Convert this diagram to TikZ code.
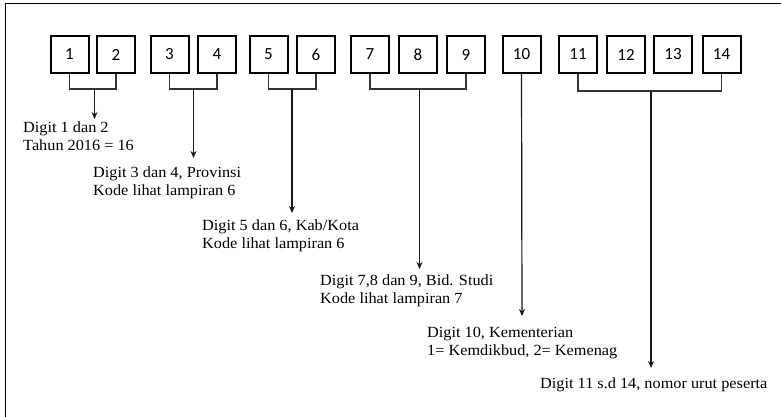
\documentclass[tikz,border=0pt]{standalone}
\usepackage{fontspec}
\setmainfont{Liberation Serif}[FakeStretch=1.05]
\newfontfamily\boxfont{Carlito}
\usetikzlibrary{arrows.meta}
\begin{document}
\begin{tikzpicture}[x=1pt,y=-1pt,
  digitbox/.style={draw, line width=2pt, minimum width=38pt, minimum height=37pt, inner sep=0pt, font=\boxfont\fontsize{17}{17}\selectfont},
  bracket/.style={draw=black!80, line width=1.1pt},
  stem/.style={draw=black!90, line width=1.2pt, -{Stealth[length=7pt,width=6pt]}},
  lbl/.style={anchor=base west, align=left, inner sep=0pt, font=\fontsize{15.5}{18}\selectfont}]
\useasboundingbox (0,0) rectangle (781,417);
\draw[line width=1.3pt] (5.5,417) -- (5.5,3.5) -- (781,3.5);
\foreach \n/\x in {1/69.5,2/116,3/169.5,4/217,5/268.5,6/316,7/370,8/418,9/466,10/521.5,11/578,12/626,13/673,14/721.5}
  \node[digitbox] (b\n) at (\x,54.5) {\n};
% brackets
\draw[bracket] (b1.south) -- (b1.south |- 0,89) -- (b2.south |- 0,89) -- (b2.south);
\draw[bracket] (b3.south) -- (b3.south |- 0,89) -- (b4.south |- 0,89) -- (b4.south);
\draw[bracket] (b5.south) -- (b5.south |- 0,89) -- (b6.south |- 0,89) -- (b6.south);
\draw[bracket] (b7.south) -- (b7.south |- 0,89) -- (b9.south |- 0,89) -- (b9.south);
\draw[bracket] (b11.south) -- (b11.south |- 0,91) -- (b14.south |- 0,91) -- (b14.south);
\coordinate (m12) at (94.5,89);
\coordinate (m34) at (193.5,89);
\coordinate (m56) at (292,89);
\coordinate (m79) at (419.5,89);
\coordinate (m1114) at (651,91);
% labels (base = baseline of last line)
\node[lbl] (l1) at (23,150) {Digit 1 dan 2\\Tahun 2016 = 16};
\node[lbl] (l2) at (93,195) {Digit 3 dan 4, Provinsi\\Kode lihat lampiran 6};
\node[lbl] (l3) at (202,248) {Digit 5 dan 6, Kab/Kota\\Kode lihat lampiran 6};
\node[lbl] (l4) at (320,303) {Digit 7,8 dan 9, Bid. Studi\\Kode lihat lampiran 7};
\node[lbl] (l5) at (427,355) {Digit 10, Kementerian\\1= Kemdikbud, 2= Kemenag};
\node[lbl] (l6) at (540,388) {Digit 11 s.d 14, nomor urut peserta};
% arrows
\coordinate (e1) at (94.5,119);
\coordinate (e2) at (193.5,158);
\coordinate (e3) at (292,213);
\coordinate (e4) at (419.5,269);
\coordinate (e5) at (522,316);
\coordinate (e6) at (651,368);
\draw[stem] (m12) -- (e1);
\draw[stem] (m34) -- (e2);
\draw[stem] (m56) -- (e3);
\draw[stem] (m79) -- (e4);
\draw[stem] (b10.south) -- (e5);
\draw[stem] (m1114) -- (e6);
\end{tikzpicture}
\end{document}
